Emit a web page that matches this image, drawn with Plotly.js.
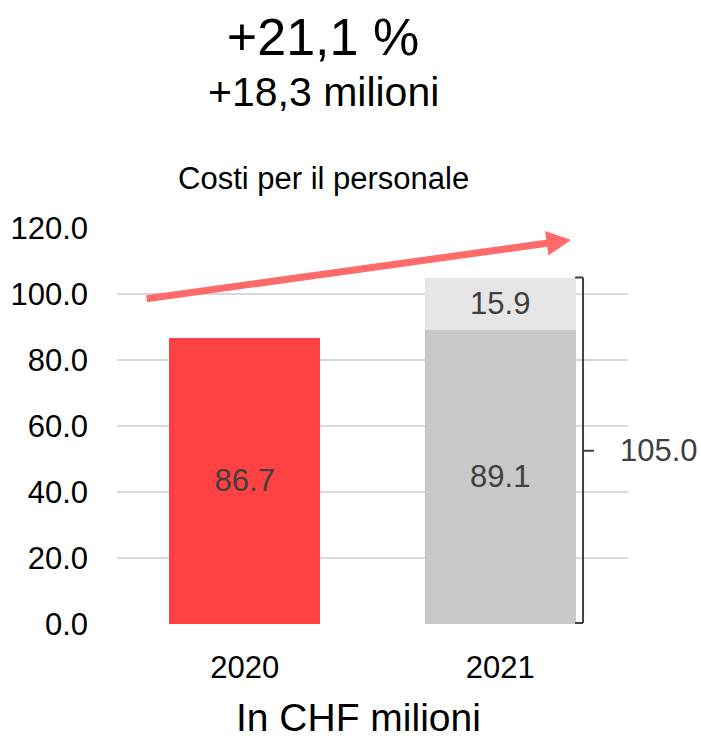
<!DOCTYPE html>
<html>
<head>
<meta charset="utf-8">
<script src="https://cdn.plot.ly/plotly-3.0.1.min.js"></script>
<style>html,body{margin:0;padding:0;background:#fff;}#chart{width:701px;height:742px;}</style>
</head>
<body>
<div id="chart"></div>
<script>
// Data
const categories = ['2020', '2021'];
const base2020 = [86.7];
const base2021 = [89.1];
const increase2021 = [15.9];
const headline = '+21,1 %';
const subHeadline = '+18,3 milioni';
const chartLabel = 'Costi per il personale';
const unitLabel = 'In CHF milioni';
const yTicks = [0, 20, 40, 60, 80, 100, 120];

const total2021 = base2021[0] + increase2021[0];
const FONT = 'Liberation Sans, Arial, sans-serif';
const TXT = '#404040';

const traces = [
  {type: 'bar', name: '2020', x: [categories[0]], y: base2020,
   marker: {color: '#FF4144'}, texttemplate: '%{y:.1f}', textposition: 'inside',
   insidetextanchor: 'middle', textfont: {family: FONT, size: 31, color: TXT}, hoverinfo: 'x+y'},
  {type: 'bar', name: '2021 base', x: [categories[1]], y: base2021,
   marker: {color: '#C8C8C8'}, texttemplate: '%{y:.1f}', textposition: 'inside',
   insidetextanchor: 'middle', textfont: {family: FONT, size: 31, color: TXT}, hoverinfo: 'x+y'},
  {type: 'bar', name: '2021 aumento', x: [categories[1]], y: increase2021,
   marker: {color: '#E6E6E6'}, texttemplate: '%{y:.1f}', textposition: 'inside',
   insidetextanchor: 'middle', textfont: {family: FONT, size: 31, color: TXT}, hoverinfo: 'x+y'}
];

const bx = 1.324, hookL = 1.293, tickR = 1.367;
const brk = {color: TXT, width: 2};
const layout = {
  width: 701, height: 742,
  margin: {l: 117, r: 73, t: 228, b: 118},
  paper_bgcolor: '#fff', plot_bgcolor: '#fff',
  barmode: 'stack', bargap: 0.41, showlegend: false,
  font: {family: FONT, color: '#000'},
  title: {text: headline, font: {family: FONT, size: 52, color: '#000'},
          x: 323/701, xanchor: 'center', xref: 'container',
          y: 1 - 37/742, yanchor: 'middle', yref: 'container'},
  xaxis: {type: 'category', range: [-0.5, 1.5], showgrid: false, zeroline: false,
          showline: false, ticks: '', tickfont: {family: FONT, size: 31, color: '#000'},
          ticklabelstandoff: 22, fixedrange: true},
  yaxis: {range: [0, 120], tickvals: yTicks, tickformat: '.1f', showgrid: true,
          gridcolor: '#D9D9D9', gridwidth: 1.5, zeroline: false, showline: false, ticks: '',
          tickfont: {family: FONT, size: 31, color: '#000'}, ticklabelstandoff: 28,
          fixedrange: true},
  shapes: [
    {type: 'line', xref: 'x', yref: 'y', x0: hookL, x1: bx, y0: total2021, y1: total2021, line: brk},
    {type: 'line', xref: 'x', yref: 'y', x0: bx, x1: bx, y0: total2021, y1: 0.3, line: brk},
    {type: 'line', xref: 'x', yref: 'y', x0: hookL, x1: bx, y0: 0.3, y1: 0.3, line: brk},
    {type: 'line', xref: 'x', yref: 'y', x0: bx, x1: tickR, y0: total2021 / 2, y1: total2021 / 2, line: brk}
  ],
  annotations: [
    {text: subHeadline, xref: 'paper', yref: 'paper', x: (323-117)/511, y: 1 + (228-92)/396,
     xanchor: 'center', yanchor: 'middle', showarrow: false, font: {family: FONT, size: 41, color: '#000'}},
    {text: chartLabel, xref: 'paper', yref: 'paper', x: (323-117)/511, y: 1 + (228-178)/396,
     xanchor: 'center', yanchor: 'middle', showarrow: false, font: {family: FONT, size: 31, color: '#000'}},
    {text: unitLabel, xref: 'paper', yref: 'paper', x: (358-117)/511, y: -(717-624)/396,
     xanchor: 'center', yanchor: 'middle', showarrow: false, font: {family: FONT, size: 39, color: '#000'}},
    {text: total2021.toFixed(1), xref: 'paper', yref: 'y', x: (618-117)/511, y: total2021 / 2,
     xanchor: 'left', yanchor: 'middle', showarrow: false, font: {family: FONT, size: 31, color: TXT}},
    {x: 1.277, y: 116.4, xref: 'x', yref: 'y', axref: 'x', ayref: 'y', ax: -0.39, ay: 98.5,
     showarrow: true, arrowhead: 2, arrowsize: 0.7, arrowwidth: 7, arrowcolor: '#FF6B6B', text: '', standoff: 0}
  ]
};

Plotly.newPlot('chart', traces, layout, {displayModeBar: false, staticPlot: true});
</script>
</body>
</html>
